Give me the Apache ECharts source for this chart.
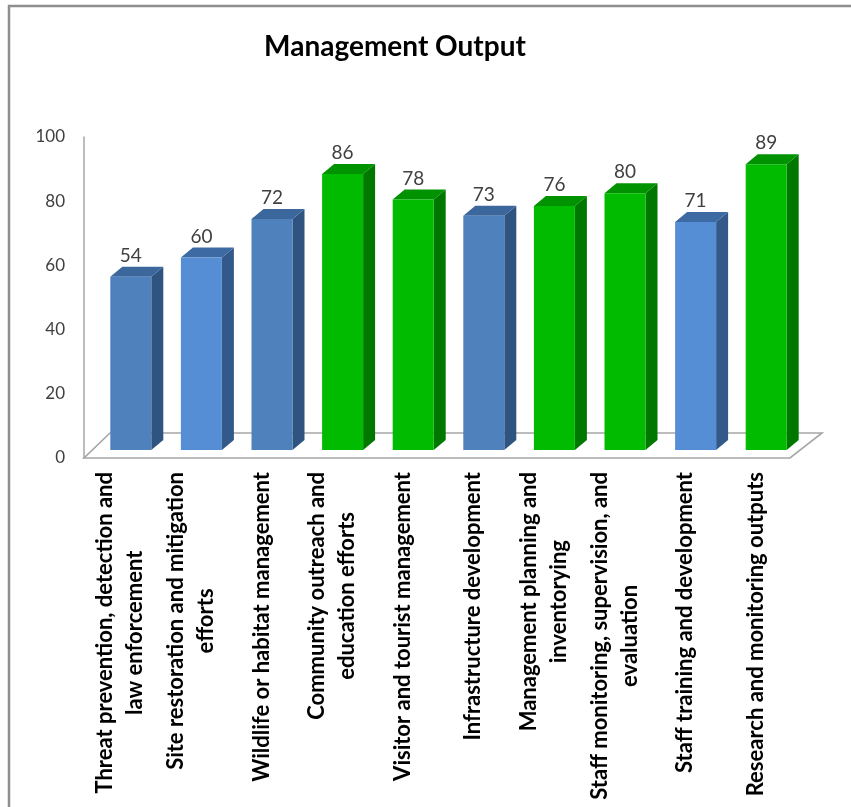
<!DOCTYPE html>
<html><head><meta charset="utf-8">
<script src="https://cdn.jsdelivr.net/npm/echarts/dist/echarts.min.js"></script>
<style>html,body{margin:0;padding:0;background:#fff}#c{width:851px;height:807px}</style>
</head><body><div id="c"></div>
<script>
const categories = [
  "Threat prevention, detection and\nlaw enforcement",
  "Site restoration and mitigation\nefforts",
  "Wildlife or habitat management",
  "Community outreach and\neducation efforts",
  "Visitor and tourist management",
  "Infrastructure development",
  "Management planning and\ninventorying",
  "Staff monitoring, supervision, and\nevaluation",
  "Staff training and development",
  "Research and monitoring outputs"
];
const values = [54, 60, 72, 86, 78, 73, 76, 80, 71, 89];
const barGroups = ['blue','lightBlue','blue','green','green','blue','green','green','lightBlue','green'];
const yMin = 0, yMax = 100, yStep = 20;

const PALETTE = {
  blue:      {front:'#4F81BD', side:'#2F5480', top:'#3C679C'},
  lightBlue: {front:'#558ED5', side:'#33588A', top:'#3E6AA3'},
  green:     {front:'#00BB00', side:'#007800', top:'#009200'}
};
const BAR_DX = 11.5, BAR_DY = -8, BAR_W = 41, DEPTH_X = 12, DEPTH_Y = -10;
const LABEL_FONT = 'bold 22px Lato';
const measureCtx = document.createElement('canvas').getContext('2d');
measureCtx.font = LABEL_FONT;
function maxLineWidth(t){ return Math.max.apply(null, t.split('\n').map(s => measureCtx.measureText(s).width)); }

const chart = echarts.init(document.getElementById('c'), null, {renderer:'canvas'});
chart.setOption({
  backgroundColor:'#fff',
  animation:false,
  title:{text:'Management Output', left:390, top:28, textAlign:'center',
    textStyle:{fontFamily:'Lato', fontWeight:'bold', fontSize:28, color:'#000'}},
  graphic:[{type:'rect', shape:{x:9, y:6, width:900, height:900}, style:{fill:'none', stroke:'#8e8e8e', lineWidth:2.5}, silent:true}],
  grid:{left:84, width:706, top:137, height:321},
  xAxis:{type:'category', data:categories, axisLine:{show:false}, axisTick:{show:false}, axisLabel:{show:false}},
  yAxis:{type:'value', min:yMin, max:yMax, interval:yStep,
    axisLine:{show:true, lineStyle:{color:'#A6A6A6', width:1.5}},
    axisTick:{show:false}, splitLine:{show:false},
    axisLabel:{color:'#404040', fontSize:17, fontFamily:'Lato', margin:19}},
  series:[
    {type:'custom', z:1, silent:true, data:[[0,0]],
      renderItem(params, api){
        const cs = params.coordSys;
        const fl = [cs.x, cs.y + cs.height], fr = [cs.x + cs.width, cs.y + cs.height];
        return {type:'polygon', shape:{points:[fl, fr, [fr[0]+32, fr[1]-25], [fl[0]+26, fl[1]-25]]},
          style:{fill:'#fff', stroke:'#A6A6A6', lineWidth:1.6}};
      }},
    {type:'custom', z:2, silent:true, data:values.map((v,i)=>[i,v]), encode:{x:0,y:1},
      renderItem(params, api){
        const i = params.dataIndex, v = api.value(1);
        const base = api.coord([i, 0]), top = api.coord([i, v]);
        const cx = base[0] + BAR_DX, x0 = cx - BAR_W/2, x1 = cx + BAR_W/2;
        const yb = base[1] + BAR_DY, yt = top[1] + BAR_DY;
        const p = PALETTE[barGroups[i]];
        return {type:'group', children:[
          {type:'polygon', shape:{points:[[x1,yb],[x1+DEPTH_X,yb+DEPTH_Y],[x1+DEPTH_X,yt+DEPTH_Y],[x1,yt]]}, style:{fill:p.side}},
          {type:'polygon', shape:{points:[[x0,yt],[x1,yt],[x1+DEPTH_X,yt+DEPTH_Y],[x0+DEPTH_X,yt+DEPTH_Y]]}, style:{fill:p.top}},
          {type:'rect', shape:{x:x0, y:yt, width:BAR_W, height:yb-yt}, style:{fill:p.front}},
          {type:'text', x:cx, y:yt-21, style:{text:String(v), align:'center', verticalAlign:'middle', fill:'#404040', font:'19px Lato'}}
        ]};
      }},
    {type:'custom', z:3, silent:true, data:categories.map((c,i)=>[i,0]), encode:{x:0,y:1},
      renderItem(params, api){
        const i = params.dataIndex;
        const base = api.coord([i, 0]);
        const w = maxLineWidth(categories[i]);
        return {type:'text', x:base[0] + 1, y:base[1] + 14 + w/2, rotation:Math.PI/2,
          style:{text:categories[i], align:'center', verticalAlign:'middle', fill:'#000', font:LABEL_FONT, lineHeight:30}};
      }}
  ]
});
</script></body></html>
